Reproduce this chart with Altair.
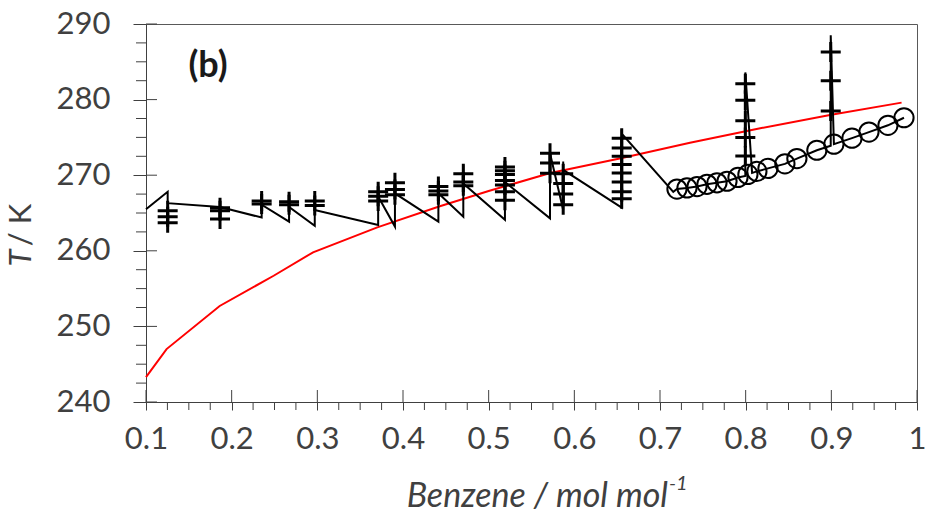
import altair as alt
import pandas as pd

# ---- data ----
red_x = [0.1, 0.124, 0.186, 0.249, 0.295, 0.37, 0.443, 0.5, 0.572, 0.653, 0.735, 0.817, 0.9, 0.982]
red_T = [243.3, 247.0, 252.7, 256.7, 259.8, 263.1, 265.9, 267.9, 270.3, 272.2, 274.3, 276.2, 278.0, 279.6]

line_x = [0.1, 0.1253, 0.1253, 0.1864, 0.235, 0.235, 0.267, 0.267, 0.297, 0.297,
          0.371, 0.371, 0.371, 0.3906, 0.3906, 0.3906, 0.4413, 0.4413, 0.4413,
          0.4704, 0.4704, 0.4704, 0.519, 0.519, 0.519, 0.5716, 0.5716, 0.5716,
          0.587, 0.587, 0.587, 0.6553, 0.6553, 0.6553, 0.7155,
          0.7198, 0.7315, 0.7432, 0.7548, 0.7665, 0.7782, 0.7910, 0.7996, 0.7996,
          0.8075, 0.8131, 0.8260, 0.8458, 0.8598, 0.8831, 0.8993, 0.8993,
          0.9030, 0.9241, 0.9439, 0.9661, 0.9848]
line_T = [265.5, 267.8, 266.3, 265.8, 264.4, 266.1, 263.85, 265.8, 263.3, 265.4,
          263.4, 269.1, 267.2, 263.2, 270.25, 267.6, 263.85, 269.1, 267.6,
          264.5, 271.3, 268.9, 264.1, 272.2, 269.1, 264.3, 274.0, 272.9,
          265.4, 271.8, 270.7, 265.7, 276.0, 275.5, 267.8,
          268.17, 268.31, 268.5, 268.8, 269.0, 269.2, 269.7, 269.9, 283.6,
          270.3, 270.5, 270.9, 271.5, 272.2, 273.3, 273.9, 288.5,
          274.1, 274.9, 275.7, 276.6, 277.6]

plus_x = [0.1253, 0.1253, 0.1253,
          0.1864, 0.1864, 0.1864,
          0.235, 0.235,
          0.267, 0.267,
          0.297, 0.297,
          0.371, 0.371, 0.371,
          0.3906, 0.3906, 0.3906,
          0.4413, 0.4413, 0.4413,
          0.4704, 0.4704, 0.4704,
          0.519, 0.519, 0.519, 0.519, 0.519, 0.519, 0.519,
          0.5716, 0.5716, 0.5716,
          0.587, 0.587, 0.587, 0.587,
          0.6553, 0.6553, 0.6553, 0.6553, 0.6553, 0.6553, 0.6553, 0.6553,
          0.7996, 0.7996, 0.7996, 0.7996, 0.7996,
          0.8993, 0.8993, 0.8993]
plus_T = [265.3, 264.5, 263.7,
          265.7, 265.3, 264.2,
          266.6, 266.2,
          266.5, 266.1,
          266.6, 266.0,
          267.8, 267.2, 266.6,
          269.0, 268.1, 267.4,
          268.5, 267.9, 267.4,
          270.2, 269.1, 268.6,
          271.1, 270.6, 270.1, 269.3, 268.7, 267.8, 266.7,
          272.9, 271.6, 270.25,
          270.2, 268.9, 267.5, 266.1,
          274.9, 273.6, 272.5, 271.4, 270.3, 269.1, 267.8, 266.9,
          282.1, 279.9, 277.2, 275.0, 272.55,
          286.3, 282.5, 278.5]

circ_x = [0.7198, 0.7315, 0.7432, 0.7548, 0.7665, 0.7782, 0.7910, 0.8026, 0.8131,
          0.8260, 0.8458, 0.8598, 0.8831, 0.9030, 0.9241, 0.9439, 0.9661, 0.9848]
circ_T = [268.17, 268.31, 268.5, 268.8, 269.0, 269.2, 269.7, 270.1, 270.5,
          270.9, 271.5, 272.2, 273.3, 274.1, 274.9, 275.7, 276.6, 277.6]

x_major = [0.1, 0.2, 0.3, 0.4, 0.5, 0.6, 0.7, 0.8, 0.9, 1.0]
x_minor = [0.125, 0.15, 0.175, 0.225, 0.25, 0.275, 0.325, 0.35, 0.375,
           0.425, 0.45, 0.475, 0.525, 0.55, 0.575, 0.625, 0.65, 0.675,
           0.725, 0.75, 0.775, 0.825, 0.85, 0.875, 0.925, 0.95, 0.975]
y_major = [240, 250, 260, 270, 280, 290]
y_minor = [242.5, 245, 247.5, 252.5, 255, 257.5, 262.5, 265, 267.5,
           272.5, 275, 277.5, 282.5, 285, 287.5]

# ---- tables ----
red = pd.DataFrame({"x": red_x, "T": red_T})
line = pd.DataFrame({"x": line_x, "T": line_T, "i": list(range(len(line_x)))})
plus = pd.DataFrame({"x": plus_x, "T": plus_T})
circ = pd.DataFrame({"x": circ_x, "T": circ_T})
xmaj = pd.DataFrame({"v": x_major})
xmin = pd.DataFrame({"v": x_minor})
ymaj = pd.DataFrame({"v": y_major})
ymin = pd.DataFrame({"v": y_minor})

W, H = 771, 378
FONT = "Lato"
GREY = "#404040"

xs = alt.Scale(domain=[0.1, 1.0], nice=False, zero=False)
ys = alt.Scale(domain=[240, 290], nice=False, zero=False)

xaxis = alt.Axis(values=x_major, format=".1~f", title=None, tickSize=8,
                 labelPadding=14, labelFontSize=31, labelFont=FONT,
                 labelColor=GREY, grid=False, domainColor=GREY, tickColor=GREY,
                 labelFlush=False)
yaxis = alt.Axis(values=y_major, title=None, tickSize=13, labelPadding=23,
                 labelFontSize=31, labelFont=FONT, labelColor=GREY, grid=False,
                 domainColor=GREY, tickColor=GREY)

red_layer = alt.Chart(red).mark_line(color="#ff0000", strokeWidth=2).encode(
    x=alt.X("x:Q", scale=xs, axis=xaxis),
    y=alt.Y("T:Q", scale=ys, axis=yaxis),
)

black_layer = alt.Chart(line).mark_line(color="black", strokeWidth=2).encode(
    x=alt.X("x:Q", scale=xs),
    y=alt.Y("T:Q", scale=ys),
    order="i:Q",
)

plus_layer = alt.Chart(plus).mark_point(
    shape="M-1,0H1M0,-1V1", size=400, strokeWidth=3, color="black",
    filled=False, opacity=1,
).encode(x=alt.X("x:Q", scale=xs), y=alt.Y("T:Q", scale=ys))

circ_layer = alt.Chart(circ).mark_point(
    shape="circle", size=370, strokeWidth=2, color="black", filled=False, opacity=1,
).encode(x=alt.X("x:Q", scale=xs), y=alt.Y("T:Q", scale=ys))

# inner parts of major ticks and outer minor ticks
xmaj_in = alt.Chart(xmaj).mark_rule(color=GREY, strokeWidth=1).encode(
    x=alt.X("v:Q", scale=xs), y=alt.value(H), y2=alt.value(H - 12))
xmin_out = alt.Chart(xmin).mark_rule(color=GREY, strokeWidth=1).encode(
    x=alt.X("v:Q", scale=xs), y=alt.value(H), y2=alt.value(H + 8))
ymaj_in = alt.Chart(ymaj).mark_rule(color=GREY, strokeWidth=1).encode(
    y=alt.Y("v:Q", scale=ys), x=alt.value(0), x2=alt.value(11))
ymin_out = alt.Chart(ymin).mark_rule(color=GREY, strokeWidth=1).encode(
    y=alt.Y("v:Q", scale=ys), x=alt.value(-10), x2=alt.value(0))

# titles and panel label
txt = pd.DataFrame({"a": [0]})
t_italic = alt.Chart(txt).mark_text(
    text="T", font=FONT, fontSize=31, fontStyle="italic", color=GREY,
    angle=270, align="center", baseline="middle",
).encode(x=alt.value(-124), y=alt.value(234))
t_rest = alt.Chart(txt).mark_text(
    text="/ K", font=FONT, fontSize=31, color=GREY,
    angle=270, align="center", baseline="middle",
).encode(x=alt.value(-124), y=alt.value(201))
xt_main = alt.Chart(txt).mark_text(
    text="Benzene / mol mol", font=FONT, fontSize=34, fontStyle="italic",
    color=GREY, align="right", baseline="middle",
).encode(x=alt.value(522), y=alt.value(473))
xt_sup = alt.Chart(txt).mark_text(
    text="-1", font=FONT, fontSize=20, fontStyle="italic",
    color=GREY, align="left", baseline="middle",
).encode(x=alt.value(523), y=alt.value(460))
panel = alt.Chart(txt).mark_text(
    text="(b)", font=FONT, fontSize=36, fontWeight="bold", color="#1a1a1a",
    align="center", baseline="middle",
).encode(x=alt.value(62), y=alt.value(42))

chart = alt.layer(
    red_layer, black_layer, plus_layer, circ_layer,
    xmaj_in, xmin_out, ymaj_in, ymin_out,
    t_italic, t_rest, xt_main, xt_sup, panel,
).properties(
    width=W, height=H,
    autosize=alt.AutoSizeParams(type="none"),
    padding={"left": 146, "top": 24, "right": 8, "bottom": 119},
).configure_view(stroke="#595959", strokeWidth=1)

chart.save("out.html", embed_options={"renderer": "svg", "actions": False})
